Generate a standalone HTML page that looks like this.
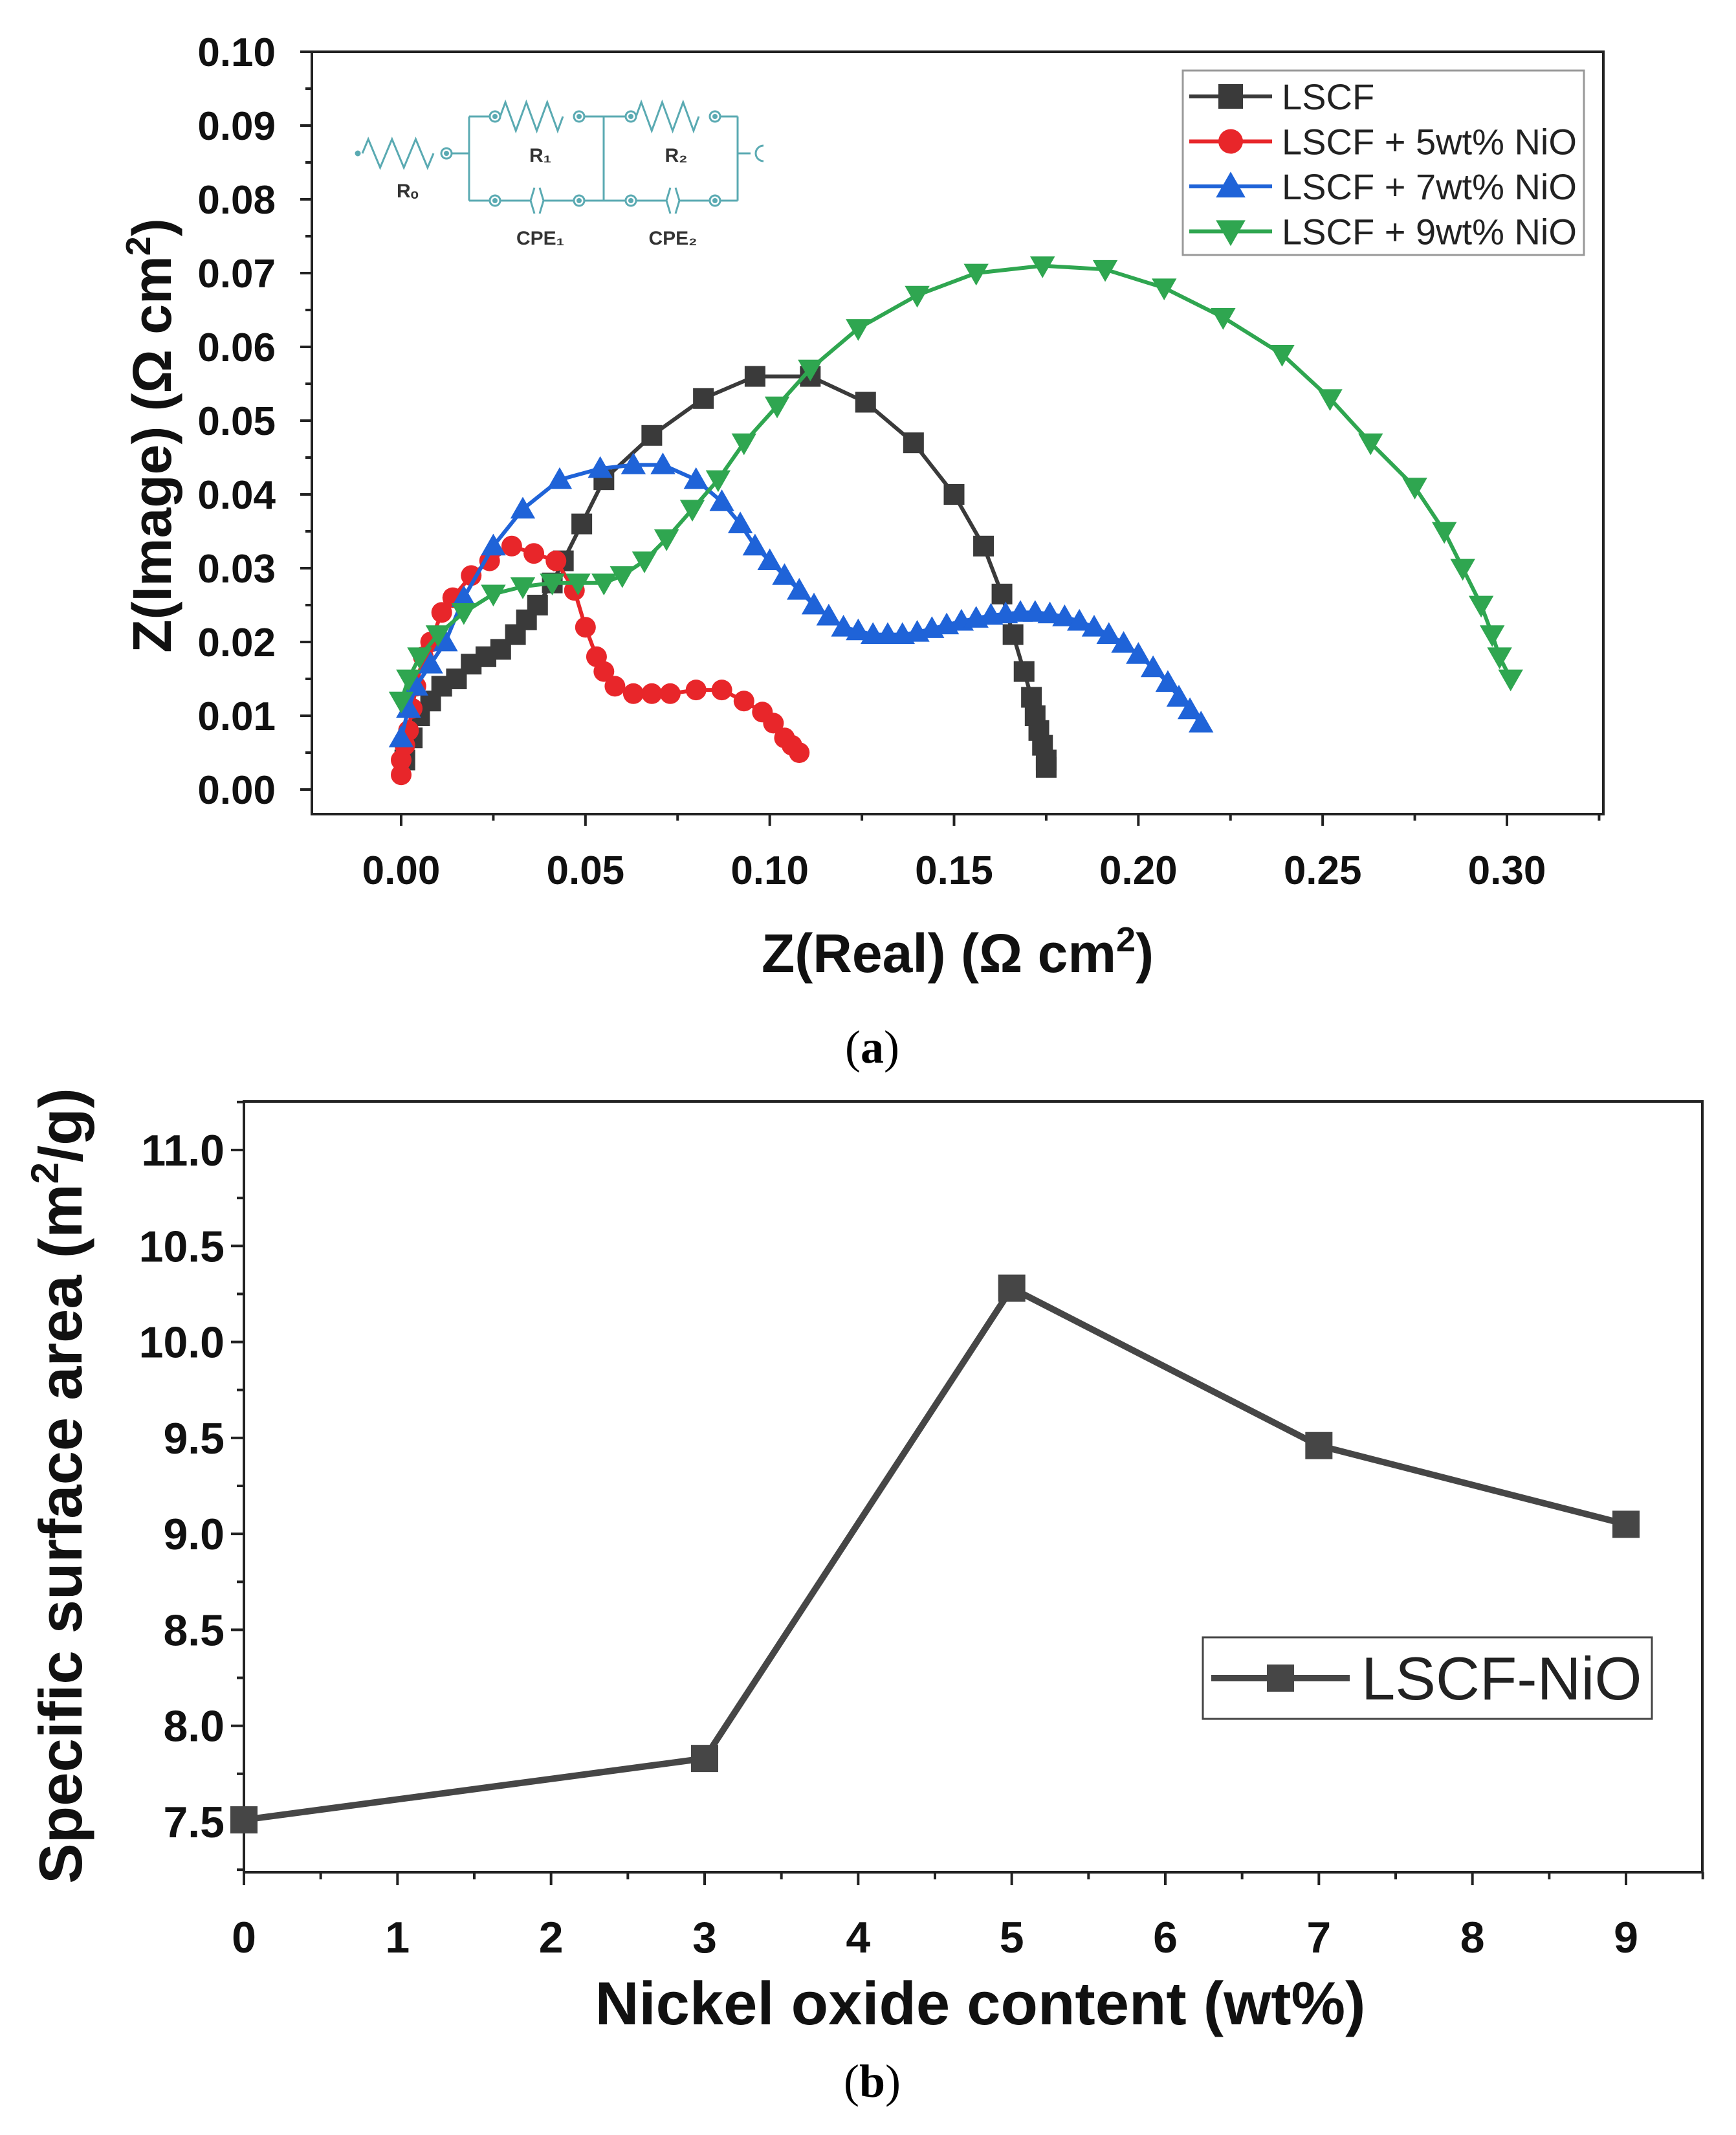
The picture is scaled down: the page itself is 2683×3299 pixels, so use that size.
<!DOCTYPE html>
<html><head><meta charset="utf-8">
<style>
html,body{margin:0;padding:0;background:#fff;}
svg{display:block;font-family:"Liberation Sans",Arial,sans-serif;}
</style></head>
<body>
<svg id="fig" width="2683" height="3299" viewBox="0 0 2683 3299" xmlns="http://www.w3.org/2000/svg">
<rect width="2683" height="3299" fill="#fff"/>
<g id="chartA"></g>
<g id="chartB"></g>
<text x="1348" y="1642" font-family="Liberation Serif,serif" font-size="72" text-anchor="middle">(<tspan font-weight="bold">a</tspan>)</text>
<text x="1348" y="3240" font-family="Liberation Serif,serif" font-size="72" text-anchor="middle">(<tspan font-weight="bold">b</tspan>)</text>
</svg>
<script>
// ---- Chart A data ----
const lscfX=[0.001,0.003,0.005,0.008,0.011,0.015,0.019,0.023,0.027,0.031,0.034,0.037,0.041,0.044,0.049,0.055,0.068,0.082,0.096,0.111,0.126,0.139,0.150,0.158,0.163,0.166,0.169,0.171,0.172,0.173,0.174,0.175,0.175];
const lscfY=[0.004,0.007,0.010,0.012,0.014,0.015,0.017,0.018,0.019,0.021,0.023,0.025,0.028,0.031,0.036,0.042,0.048,0.053,0.056,0.056,0.0525,0.047,0.040,0.033,0.0265,0.021,0.016,0.0125,0.010,0.008,0.006,0.004,0.003];
const ni5X=[0.000,0.000,0.001,0.002,0.003,0.004,0.006,0.008,0.011,0.014,0.019,0.024,0.030,0.036,0.042,0.047,0.050,0.053,0.055,0.058,0.063,0.068,0.073,0.080,0.087,0.093,0.098,0.101,0.104,0.106,0.108];
const ni5Y=[0.002,0.004,0.006,0.008,0.011,0.014,0.018,0.020,0.024,0.026,0.029,0.031,0.033,0.032,0.031,0.027,0.022,0.018,0.016,0.014,0.013,0.013,0.013,0.0135,0.0135,0.012,0.0105,0.009,0.007,0.006,0.005];
const ni7X=[0.000,0.002,0.004,0.008,0.012,0.017,0.025,0.033,0.043,0.054,0.063,0.071,0.080,0.087,0.092,0.096,0.100,0.104,0.108,0.112,0.116,0.120,0.124,0.128,0.132,0.136,0.140,0.144,0.148,0.152,0.156,0.160,0.164,0.168,0.172,0.176,0.180,0.184,0.188,0.192,0.196,0.200,0.204,0.208,0.211,0.214,0.217];
const ni7Y=[0.007,0.011,0.014,0.017,0.020,0.026,0.033,0.038,0.042,0.0435,0.044,0.044,0.042,0.039,0.036,0.033,0.031,0.029,0.027,0.025,0.0235,0.022,0.0215,0.021,0.021,0.021,0.0213,0.0218,0.0223,0.0228,0.0232,0.0236,0.0238,0.024,0.024,0.0238,0.0234,0.0228,0.022,0.021,0.0198,0.0183,0.0165,0.0145,0.0125,0.0108,0.009];
const ni9X=[0.000,0.002,0.005,0.010,0.017,0.025,0.033,0.041,0.048,0.055,0.060,0.066,0.072,0.079,0.086,0.093,0.102,0.111,0.124,0.140,0.156,0.174,0.191,0.207,0.223,0.239,0.252,0.263,0.275,0.283,0.288,0.293,0.296,0.298,0.301];
const ni9Y=[0.012,0.015,0.018,0.021,0.024,0.0265,0.0275,0.028,0.028,0.028,0.029,0.031,0.034,0.038,0.042,0.047,0.052,0.057,0.0625,0.067,0.070,0.071,0.0705,0.068,0.064,0.059,0.053,0.047,0.041,0.035,0.030,0.025,0.021,0.018,0.015];
const aXTicks=["0.00","0.05","0.10","0.15","0.20","0.25","0.30"];
const aYTicks=["0.00","0.01","0.02","0.03","0.04","0.05","0.06","0.07","0.08","0.09","0.10"];
const aLegend=["LSCF","LSCF + 5wt% NiO","LSCF + 7wt% NiO","LSCF + 9wt% NiO"];
// ---- Chart B data ----
const bCats=[0,3,5,7,9];
const bVals=[7.51,7.83,10.28,9.46,9.05];
const bXTicks=["0","1","2","3","4","5","6","7","8","9"];
const bYTicks=["7.5","8.0","8.5","9.0","9.5","10.0","10.5","11.0"];

const NS="http://www.w3.org/2000/svg";
function mk(parent,tag,attrs,text){const e=document.createElementNS(NS,tag);for(const k in attrs)e.setAttribute(k,attrs[k]);if(text!==undefined)e.textContent=text;parent.appendChild(e);return e;}

// ===== Chart A =====
(function(){
const g=document.getElementById('chartA');
const L=482,R=2478,T=80,B=1258;
const xs=v=>620+(v/0.30)*(2329-620);
const ys=v=>1220-(v/0.10)*(1220-80);
let f=mk(g,'rect',{x:L,y:T,width:R-L,height:B-T,fill:'none',stroke:'#222','stroke-width':4});

for(let i=-1;i<=13;i++){const v=i*0.025;const x=xs(v);if(x<L-1||x>R+1)continue;const major=i%2===0;
 mk(g,'line',{x1:x,y1:B,x2:x,y2:B+(major?18:10),stroke:'#222','stroke-width':4});}
aXTicks.forEach((t,i)=>{const v=parseFloat(t);let e=mk(g,'text',{x:xs(v),y:B+108,'font-size':62,'font-weight':'bold','text-anchor':'middle',fill:'#111'},t);
 });
for(let i=0;i<=20;i++){const v=i*0.005;const y=ys(v);const major=i%2===0;
 mk(g,'line',{x1:L,y1:y,x2:L-(major?18:10),y2:y,stroke:'#222','stroke-width':4});}
aYTicks.forEach(t=>{const v=parseFloat(t);let e=mk(g,'text',{x:L-56,y:ys(v)+22,'font-size':62,'font-weight':'bold','text-anchor':'end',fill:'#111'},t);
 });
let xt=mk(g,'text',{x:1480,y:1502,'font-size':84,'font-weight':'bold','text-anchor':'middle',fill:'#111'});
xt.innerHTML='Z(Real) (Ω cm<tspan dy="-32" font-size="54">2</tspan><tspan dy="32">)</tspan>';

let yt=mk(g,'text',{transform:'translate(264,673) rotate(-90)','font-size':84,'font-weight':'bold','text-anchor':'middle',fill:'#111'});
yt.innerHTML='Z(Image) (Ω cm<tspan dy="-32" font-size="54">2</tspan><tspan dy="32">)</tspan>';


const series=[{x:lscfX,y:lscfY,c:'#3a3a3a',m:'sq',n:'series-lscf'},{x:ni5X,y:ni5Y,c:'#e8262a',m:'ci',n:'series-5wt'},{x:ni7X,y:ni7Y,c:'#1f63d8',m:'tu',n:'series-7wt'},{x:ni9X,y:ni9Y,c:'#2fa650',m:'td',n:'series-9wt'}];
function marker(p,m,x,y,c,s){
 if(m==='sq')return mk(p,'rect',{x:x-s/2,y:y-s/2,width:s,height:s,fill:c});
 if(m==='ci')return mk(p,'circle',{cx:x,cy:y,r:s/2,fill:c});
 if(m==='tu')return mk(p,'polygon',{points:`${x},${y-s*0.6} ${x-s*0.6},${y+s*0.45} ${x+s*0.6},${y+s*0.45}`,fill:c});
 return mk(p,'polygon',{points:`${x},${y+s*0.6} ${x-s*0.6},${y-s*0.45} ${x+s*0.6},${y-s*0.45}`,fill:c});
}
series.forEach(s=>{
 const sg=mk(g,'g',{});
 const pts=s.x.map((v,i)=>xs(v)+','+ys(s.y[i])).join(' ');
 mk(sg,'polyline',{points:pts,fill:'none',stroke:s.c,'stroke-width':6});
 s.x.forEach((v,i)=>{const e=marker(sg,s.m,xs(v),ys(s.y[i]),s.c,32);});
});
const lg=mk(g,'g',{});
mk(lg,'rect',{x:1828,y:109,width:620,height:285,fill:'#fff',stroke:'#999','stroke-width':3});
aLegend.forEach((t,i)=>{const y=149+i*69.5;const s=series[i];
 const eg=mk(lg,'g',{});
 mk(eg,'line',{x1:1838,y1:y,x2:1966,y2:y,stroke:s.c,'stroke-width':6});
 marker(eg,s.m,1902,y,s.c,38);
 mk(eg,'text',{x:1981,y:y+20,'font-size':56,fill:'#222'},t);});
const cg=mk(g,'g',{stroke:'#5aaab2','stroke-width':3,fill:'none'});
function zig(x1,x2,y){let d=`M${x1},${y}`;const n=6,w=(x2-x1)/n;for(let i=0;i<n;i++){d+=` L${x1+w*(i+0.5)},${y+(i%2?22:-22)}`;}d+=` L${x2},${y}`;mk(cg,'path',{d});}
function node(x,y){mk(cg,'circle',{cx:x,cy:y,r:8});mk(cg,'circle',{cx:x,cy:y,r:2.5,fill:'#5aaab2'});}
mk(cg,'circle',{cx:553,cy:237,r:3,fill:'#5aaab2'});
zig(560,670,237);node(690,237);mk(cg,'line',{x1:698,y1:237,x2:725,y2:237});
mk(cg,'path',{d:'M725,180 L725,310'});mk(cg,'path',{d:'M1140,180 L1140,310'});mk(cg,'path',{d:'M933,180 L933,310'});
node(765,180);zig(773,870,180);node(895,180);mk(cg,'line',{x1:725,y1:180,x2:757,y2:180});mk(cg,'line',{x1:903,y1:180,x2:933,y2:180});
node(975,180);zig(983,1080,180);node(1105,180);mk(cg,'line',{x1:933,y1:180,x2:967,y2:180});mk(cg,'line',{x1:1113,y1:180,x2:1140,y2:180});
node(765,310);node(895,310);mk(cg,'line',{x1:773,y1:310,x2:820,y2:310});mk(cg,'line',{x1:840,y1:310,x2:887,y2:310});
mk(cg,'path',{d:'M826,290 L820,310 L826,330 M834,290 L840,310 L834,330'});
node(975,310);node(1105,310);mk(cg,'line',{x1:983,y1:310,x2:1030,y2:310});mk(cg,'line',{x1:1050,y1:310,x2:1097,y2:310});
mk(cg,'path',{d:'M1036,290 L1030,310 L1036,330 M1044,290 L1050,310 L1044,330'});
mk(cg,'line',{x1:725,y1:310,x2:757,y2:310});mk(cg,'line',{x1:903,y1:310,x2:967,y2:310});mk(cg,'line',{x1:1113,y1:310,x2:1140,y2:310});
mk(cg,'line',{x1:1140,y1:237,x2:1160,y2:237});mk(cg,'path',{d:'M1180,225 A12,12 0 1,0 1180,249'});
const lab=[['Rₒ',630,305],['R₁',835,250],['R₂',1045,250],['CPE₁',835,378],['CPE₂',1040,378]];
lab.forEach(l=>{const e=mk(g,'text',{x:l[1],y:l[2],'font-size':30,'font-weight':'bold','text-anchor':'middle',fill:'#333'},l[0]);});
})();

// ===== Chart B =====
(function(){
const g=document.getElementById('chartB');
const L=377,R=2631,T=1702,B=2893;
const xs=v=>377+(v/9)*(2513-377);
const ys=v=>2815-((v-7.5)/3.5)*(2815-1777);
let f=mk(g,'rect',{x:L,y:T,width:R-L,height:B-T,fill:'none',stroke:'#222','stroke-width':4});

for(let i=0;i<=19;i++){const v=i*0.5;const x=xs(v);if(x>R+1)continue;const major=i%2===0;
 mk(g,'line',{x1:x,y1:B,x2:x,y2:B+(major?20:11),stroke:'#222','stroke-width':4});}
bXTicks.forEach(t=>{const v=parseFloat(t);let e=mk(g,'text',{x:xs(v),y:B+124,'font-size':68,'font-weight':'bold','text-anchor':'middle',fill:'#111'},t);
 });
for(let i=-1;i<=15;i++){const v=7.5+i*0.25;const y=ys(v);if(y>B+1||y<T-1)continue;const major=i%2===0;
 mk(g,'line',{x1:L,y1:y,x2:L-(major?20:11),y2:y,stroke:'#222','stroke-width':4});}
bYTicks.forEach(t=>{const v=parseFloat(t);let e=mk(g,'text',{x:L-30,y:ys(v)+24,'font-size':68,'font-weight':'bold','text-anchor':'end',fill:'#111'},t);
 });
let xt=mk(g,'text',{x:1515,y:3128,'font-size':94,'font-weight':'bold','text-anchor':'middle',fill:'#111'},'Nickel oxide content (wt%)');

let yt=mk(g,'text',{transform:'translate(126,2296) rotate(-90)','font-size':94,'font-weight':'bold','text-anchor':'middle',fill:'#111'});
yt.innerHTML='Specific surface area (m<tspan dy="-36" font-size="60">2</tspan><tspan dy="36">/g)</tspan>';

const sg=mk(g,'g',{});
mk(sg,'polyline',{points:bCats.map((c,i)=>xs(c)+','+ys(bVals[i])).join(' '),fill:'none',stroke:'#464646','stroke-width':10});
bCats.forEach((c,i)=>{const e=mk(sg,'rect',{x:xs(c)-21,y:ys(bVals[i])-21,width:42,height:42,fill:'#464646'});});
const lg=mk(g,'g',{});
mk(lg,'rect',{x:1859,y:2530,width:694,height:126,fill:'#fff',stroke:'#444','stroke-width':3});
mk(lg,'line',{x1:1872,y1:2593,x2:2086,y2:2593,stroke:'#464646','stroke-width':10});
mk(lg,'rect',{x:1958,y:2572,width:42,height:42,fill:'#464646'});
mk(lg,'text',{x:2104,y:2626,'font-size':94,fill:'#222'},'LSCF-NiO');
})();
</script>
</body></html>
